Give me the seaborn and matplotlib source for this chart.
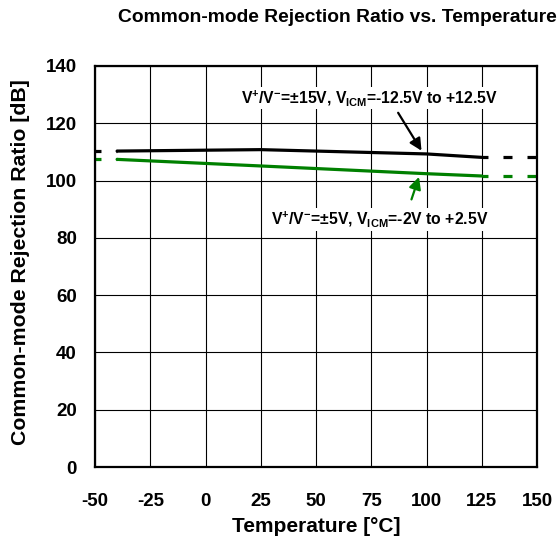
import matplotlib
matplotlib.use('Agg')
import matplotlib.pyplot as plt
import seaborn as sns
import pandas as pd

# 데이터
temps = [-40, 25, 100, 125]
cmrr_15v = [110.3, 110.8, 109.3, 108.1]
cmrr_5v = [107.4, 105.1, 102.4, 101.6]
ext_left = [-50, -40]
ext_right = [125, 150]
x_ticks = [-50, -25, 0, 25, 50, 75, 100, 125, 150]
y_ticks = [0, 20, 40, 60, 80, 100, 120, 140]

label_15v = r'V$^{+}$/V$^{-}$=±15V, V$_{\mathregular{ICM}}$=-12.5V to +12.5V'
label_5v = r'V$^{+}$/V$^{-}$=±5V, V$_{\mathregular{ICM}}$=-2V to +2.5V'

sns.set_style('white')
plt.rcParams['font.family'] = ['Liberation Sans', 'DejaVu Sans']
plt.rcParams['font.weight'] = 'bold'
plt.rcParams['text.color'] = 'black'
plt.rcParams['axes.labelcolor'] = 'black'
plt.rcParams['xtick.color'] = 'black'
plt.rcParams['ytick.color'] = 'black'
plt.rcParams['axes.unicode_minus'] = False
plt.rcParams['mathtext.fontset'] = 'custom'
plt.rcParams['mathtext.rm'] = 'Liberation Sans:bold'
plt.rcParams['mathtext.it'] = 'Liberation Sans:bold'
plt.rcParams['mathtext.bf'] = 'Liberation Sans:bold'
plt.rcParams['lines.scale_dashes'] = False

df = pd.DataFrame({'temp': temps, '15V': cmrr_15v, '5V': cmrr_5v})

fig = plt.figure(figsize=(5.59, 5.42), dpi=100)
ax = fig.add_axes([95 / 559, 75 / 542, 442 / 559, 401 / 542])

# 점선 연장 부분
dash = (2.2, (6.5, 10.8))
for xs in (ext_left, ext_right):
    i = 0 if xs is ext_left else -1
    ax.plot(xs, [cmrr_15v[i]] * 2, color='black', lw=2.3, linestyle=dash)
    ax.plot(xs, [cmrr_5v[i]] * 2, color='#008000', lw=2.3, linestyle=dash)

sns.lineplot(data=df, x='temp', y='15V', color='black', lw=2.3, ax=ax)
sns.lineplot(data=df, x='temp', y='5V', color='#008000', lw=2.3, ax=ax)

ax.set_xlim(-50, 150)
ax.set_ylim(0, 140)
ax.set_xticks(x_ticks)
ax.set_yticks(y_ticks)
ax.grid(True, color='black', lw=0.8)
ax.tick_params(axis='both', length=0, labelsize=13.5)
ax.tick_params(axis='x', pad=19)
ax.tick_params(axis='y', pad=13)
for s in ax.spines.values():
    s.set_color('black')
    s.set_linewidth(1.6)

ax.set_xlabel('Temperature [°C]', fontsize=15, fontweight='bold', va='center')
ax.set_ylabel('Common-mode Rejection Ratio [dB]', fontsize=15.3, fontweight='bold', va='center')
ax.xaxis.set_label_coords(0.5, (467 - 526) / 401)
ax.yaxis.set_label_coords((21 - 95) / 442, (467 - 262) / 401)
fig.text(337.5 / 559, 1 - 18 / 542, 'Common-mode Rejection Ratio vs. Temperature',
         ha='center', va='center', fontsize=13.9, fontweight='bold')

# 주석
ax.text(132.5, 128.8, label_15v, ha='right', va='center', fontsize=11.3, fontweight='bold',
        bbox=dict(facecolor='white', edgecolor='none', pad=1))
ax.text(128, 86.5, label_5v, ha='right', va='center', fontsize=11.3, fontweight='bold',
        bbox=dict(facecolor='white', edgecolor='none', pad=1))
ax.annotate('', xy=(98.4, 109.6), xytext=(86.5, 124.5),
            arrowprops=dict(arrowstyle='-|>', color='black', lw=1.6, mutation_scale=18))
ax.annotate('', xy=(97.0, 102.2), xytext=(92.8, 92.5),
            arrowprops=dict(arrowstyle='-|>', color='#008000', lw=1.6, mutation_scale=18))

fig.savefig('out.png', dpi=100)
